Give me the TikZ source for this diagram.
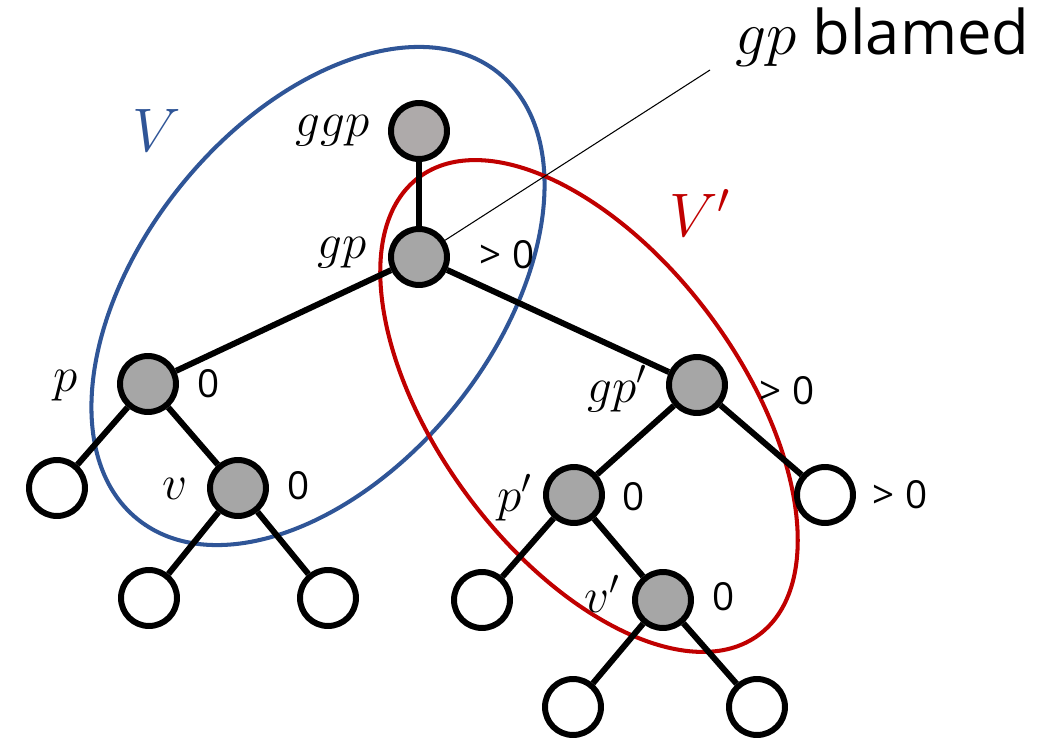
\RequirePackage{fix-cm}
\documentclass[tikz,border=0pt]{standalone}
\usepackage{fontspec}
\setsansfont{Open Sans}
\usetikzlibrary{backgrounds}
\definecolor{vblue}{HTML}{2F5597}
\definecolor{vred}{HTML}{C00000}
\definecolor{ggray}{HTML}{A6A6A6}
\definecolor{lgray}{HTML}{AEAAAA}
\begin{document}
\begin{tikzpicture}[x=0.02cm,y=-0.02cm,
  tnode/.style={circle, draw=black, line width=3.4pt, minimum size=1.12cm, inner sep=0pt},
  gnode/.style={tnode, fill=ggray},
  wnode/.style={tnode, fill=white},
  edge/.style={line width=3.4pt},
  num/.style={font=\sffamily\fontsize{22}{22}\selectfont, inner sep=0pt},
  lab/.style={font=\fontsize{28}{28}\selectfont, inner sep=0pt, anchor=base east},
  setlab/.style={font=\fontsize{35}{35}\selectfont, inner sep=0pt},
  hull/.style={line width=2.3pt}
]
\useasboundingbox (0,0) rectangle (1063,740);
% tree nodes
\node[tnode, fill=lgray] (ggp) at (419,131) {};
\node[gnode] (gp) at (419,257) {};
\node[gnode] (p) at (148,384) {};
\node[gnode] (gpp) at (697,385) {};
\node[wnode] (pl) at (57,488) {};
\node[gnode] (v) at (238,488) {};
\node[wnode] (vl) at (149,598) {};
\node[wnode] (vr) at (328,598) {};
\node[gnode] (pp) at (574,495) {};
\node[wnode] (gpr) at (825,495) {};
\node[wnode] (ppl) at (482,600) {};
\node[gnode] (vp) at (663,600) {};
\node[wnode] (vpl) at (573,707) {};
\node[wnode] (vpr) at (757,707) {};
% labels
\node[lab] (lggp) at (370,137) {$ggp$};
\node[lab] (lgp) at (367,258) {$gp$};
\node[lab] (lp) at (78,392) {$p$};
\node[lab] (lv) at (188,500) {$v$};
\node[lab] (lgpp) at (647,402) {$gp'$};
\node[lab] (lpp) at (532,511) {$p'$};
\node[lab] (lvp) at (620,612) {$v'$};
\node[num] (ngp) at (507,255) {> 0};
\node[num] (np) at (209,384) {0};
\node[num] (nv) at (299,486) {0};
\node[num] (ngpp) at (787,391) {> 0};
\node[num] (npp) at (634,497) {0};
\node[num] (ngpr) at (900,495) {> 0};
\node[num] (nvp) at (724,597) {0};
\node[setlab, text=vblue] (lV) at (157,130) {$V$};
\node[setlab, text=vred] (lVp) at (700,213) {$V'$};
\node[font=\sffamily\fontsize{35}{35}\selectfont, inner sep=0pt, anchor=base west] (blamed) at (735,55) {$gp$ blamed};
\coordinate (bl) at (710,70);
\begin{scope}[on background layer]
  \draw[hull, vblue, rotate around={51:(318,296)}] (318,296) ellipse [x radius=287, y radius=176];
  \draw[hull, vred, rotate around={-53.4:(589,406)}] (589,406) ellipse [x radius=285, y radius=151];
  \draw[edge] (ggp) -- (gp);
  \draw[edge] (gp) -- (p);
  \draw[edge] (gp) -- (gpp);
  \draw[edge] (p) -- (pl);
  \draw[edge] (p) -- (v);
  \draw[edge] (v) -- (vl);
  \draw[edge] (v) -- (vr);
  \draw[edge] (gpp) -- (pp);
  \draw[edge] (gpp) -- (gpr);
  \draw[edge] (pp) -- (ppl);
  \draw[edge] (pp) -- (vp);
  \draw[edge] (vp) -- (vpl);
  \draw[edge] (vp) -- (vpr);
\end{scope}
\draw[line width=0.6pt] (gp) -- (bl);
\end{tikzpicture}
\end{document}
